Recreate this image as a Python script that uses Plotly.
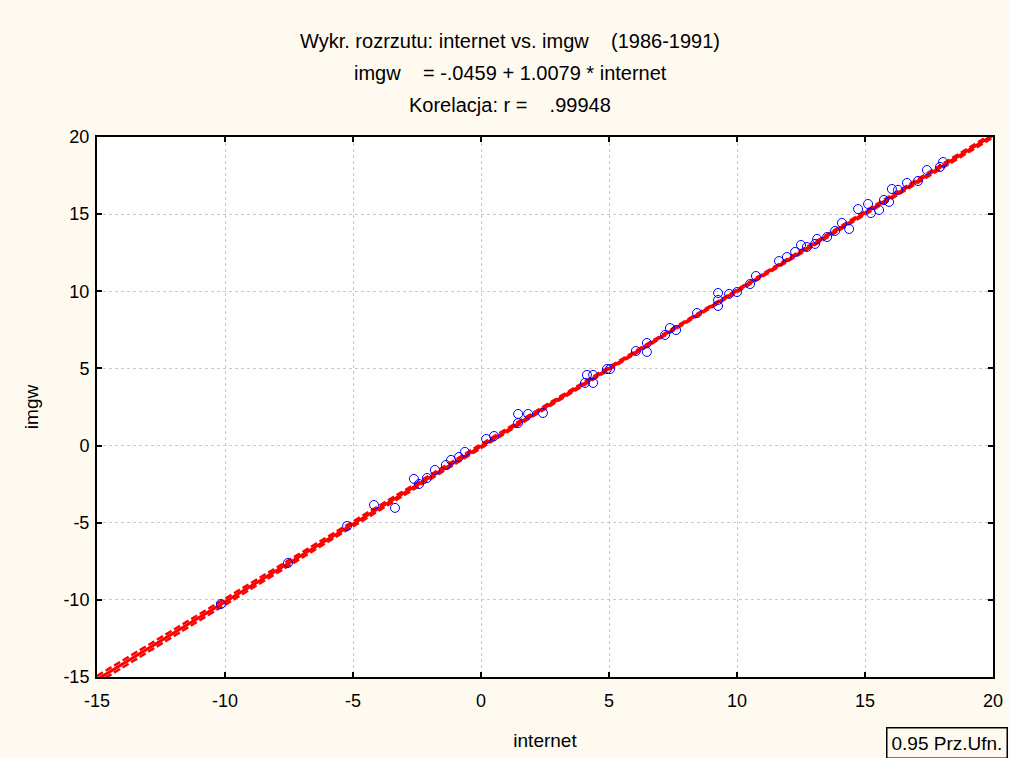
import numpy as np
import plotly.graph_objects as go

internet = [-10.16, -7.54, -5.23, -4.18, -3.36, -2.62, -2.42, -2.11, -1.80, -1.37,
            -1.17, -0.86, -0.63, 0.20, 0.51, 1.45, 1.45, 1.84, 2.42, 4.06,
            4.14, 4.38, 4.38, 4.92, 5.04, 6.05, 6.48, 6.48, 7.19, 7.38,
            7.62, 8.44, 9.26, 9.26, 9.26, 9.69, 10.00, 10.51, 10.74, 11.64,
            11.95, 12.27, 12.50, 12.73, 13.05, 13.13, 13.52, 13.83, 14.10, 14.38,
            14.73, 15.12, 15.23, 15.55, 15.74, 15.94, 16.05, 16.29, 16.64, 17.07,
            17.42, 17.93, 18.05]
imgw = [-10.27, -7.61, -5.21, -3.85, -4.04, -2.16, -2.49, -2.10, -1.58, -1.26,
        -0.93, -0.74, -0.41, 0.43, 0.62, 2.05, 1.46, 2.05, 2.11, 4.06,
        4.58, 4.58, 4.06, 4.96, 4.96, 6.13, 6.65, 6.07, 7.17, 7.62,
        7.49, 8.59, 9.89, 9.44, 9.05, 9.83, 9.95, 10.47, 10.99, 11.96,
        12.22, 12.55, 13.00, 12.87, 13.07, 13.39, 13.52, 13.91, 14.43, 14.04,
        15.33, 15.66, 15.07, 15.27, 15.92, 15.79, 16.63, 16.57, 17.02, 17.15,
        17.86, 18.06, 18.38]

intercept = -0.0459
slope = 1.0079

tick_vals = [-15, -10, -5, 0, 5, 10, 15, 20]
tick_text = ["-15", "-10", "-5", "0", "5", "10", "15", "20"]

title_lines = ["Wykr. rozrzutu: internet vs. imgw    (1986-1991)",
               "imgw    = -.0459 + 1.0079 * internet",
               "Korelacja: r =    .99948"]

x = np.array(internet)
y = np.array(imgw)
n = len(x)
xs = np.linspace(-15, 20, 200)
yfit = intercept + slope * xs
resid = y - (intercept + slope * x)
s = np.sqrt(np.sum(resid ** 2) / (n - 2))
sxx = np.sum((x - x.mean()) ** 2)
tval = 2.0
half = tval * s * np.sqrt(1.0 / n + (xs - x.mean()) ** 2 / sxx)

fig = go.Figure()
fig.add_trace(go.Scatter(x=xs, y=yfit, mode="lines",
                         line=dict(color="#ff0000", width=3), hoverinfo="skip"))
for sgn in (-1, 1):
    fig.add_trace(go.Scatter(x=xs, y=yfit + sgn * half, mode="lines",
                             line=dict(color="#ff0000", width=2.5, dash="7px,3px"),
                             hoverinfo="skip"))
fig.add_trace(go.Scatter(x=internet, y=imgw, mode="markers",
                         marker=dict(symbol="circle-open", size=9, color="#0000ff",
                                     line=dict(width=1, color="#0000ff"))))

fam = "Liberation Sans, Arial, sans-serif"
font = dict(family=fam, size=18, color="black")
title_font = dict(family=fam, size=20, color="black")
label_font = dict(family=fam, size=19, color="black")
axis_common = dict(range=[-15, 20], tickvals=tick_vals, ticktext=tick_text,
                   showline=True, linecolor="black", linewidth=2, mirror="ticks",
                   ticks="inside", ticklen=5, tickwidth=2, tickcolor="black",
                   showgrid=True, gridcolor="#c8c8c8", griddash="dot", gridwidth=1,
                   zeroline=False, tickfont=font, automargin=False)

fig.update_layout(
    width=1010, height=758,
    paper_bgcolor="#fffaf0", plot_bgcolor="white",
    margin=dict(l=97, r=17, t=137, b=81, autoexpand=False),
    showlegend=False,
    font=font,
    xaxis=dict(axis_common, ticklabelstandoff=6,
               title=dict(text="internet", font=label_font, standoff=24)),
    yaxis=dict(axis_common, ticklabelstandoff=2,
               title=dict(text="imgw", font=label_font, standoff=20)),
)

for i, line in enumerate(title_lines):
    fig.add_annotation(text=line, xref="paper", yref="paper", x=0.461, y=1,
                       yshift=96 - 32 * i, showarrow=False, font=title_font,
                       xanchor="center", yanchor="middle")

fig.add_annotation(text="0.95 Prz.Ufn.", xref="paper", yref="paper",
                   x=1, y=0, xshift=-107, yshift=-50, xanchor="left", yanchor="top",
                   showarrow=False, font=label_font, bordercolor="black", borderwidth=1.5,
                   borderpad=4, bgcolor="#fffaf0")

fig.write_html("out.html", config={"displayModeBar": False},
               post_script="document.body.style.margin='0';")
